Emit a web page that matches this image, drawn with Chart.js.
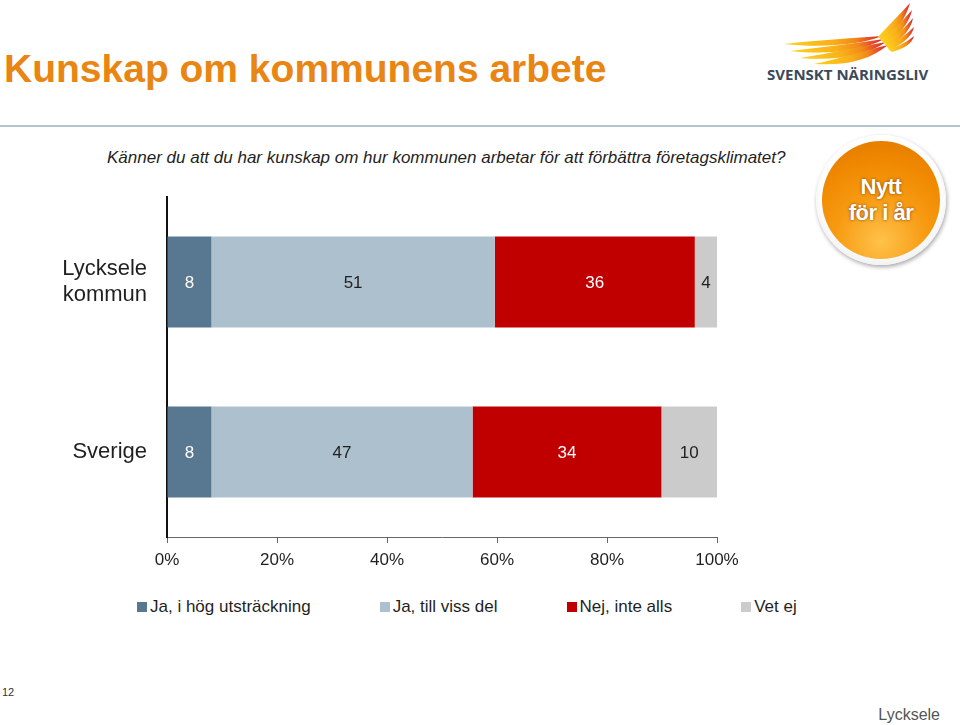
<!DOCTYPE html>
<html lang="sv">
<head>
<meta charset="utf-8">
<title>Kunskap om kommunens arbete</title>
<script src="https://cdn.jsdelivr.net/npm/chart.js@4.4.1/dist/chart.umd.min.js"></script>
<style>
    html, body {
        margin: 0;
        padding: 0;
        background: #ffffff;
    }

    body {
        position: relative;
        width: 960px;
        height: 725px;
        overflow: hidden;
        font-family: "Liberation Sans", Arial, sans-serif;
        color: #1f1f1f;
    }

    .title {
        position: absolute;
        left: 4px;
        top: 47px;
        margin: 0;
        font-size: 39px;
        font-weight: bold;
        color: #e98512;
        white-space: nowrap;
    }

    .rule {
        position: absolute;
        left: 0;
        top: 125px;
        width: 960px;
        height: 2px;
        background: #b3c4cc;
    }

    .question {
        position: absolute;
        left: 107px;
        top: 148px;
        font-size: 17px;
        font-style: italic;
        white-space: nowrap;
    }

    .logo {
        position: absolute;
        left: 760px;
        top: 0;
        width: 200px;
        height: 90px;
    }

    .logo-text {
        position: absolute;
        left: 767px;
        top: 64px;
        font-family: "Open Sans", sans-serif;
        font-weight: bold;
        font-size: 15px;
        color: #3b4a5b;
        white-space: nowrap;
    }

    .badge {
        position: absolute;
        left: 816px;
        top: 135px;
        width: 130px;
        height: 130px;
        border-radius: 50%;
        background: radial-gradient(circle at 50% 45%, #ffffff 60%, #d9d9d9 100%);
        box-shadow: 1px 2px 4px rgba(0, 0, 0, 0.35);
    }

    .badge-inner {
        position: absolute;
        left: 6px;
        top: 6px;
        width: 118px;
        height: 118px;
        border-radius: 50%;
        background: radial-gradient(circle at 50% 85%, #ffc24a 0%, #f79a12 40%, #ef8800 70%, #e07600 100%);
        display: flex;
        flex-direction: column;
        align-items: center;
        justify-content: center;
        color: #ffffff;
        font-weight: bold;
        font-size: 22px;
        line-height: 26px;
        letter-spacing: -0.5px;
        text-shadow: 0 0 3px rgba(110, 45, 0, 0.85);
    }

    #chartBox {
        position: absolute;
        left: 0;
        top: 182px;
        width: 760px;
        height: 400px;
    }

    .legend {
        position: absolute;
        left: 137px;
        top: 597px;
        display: flex;
        gap: 69px;
        font-size: 17px;
        line-height: 20px;
        white-space: nowrap;
    }

    .legend span.item {
        display: flex;
        align-items: center;
    }

    .legend i {
        display: inline-block;
        width: 10px;
        height: 10px;
        margin-right: 3px;
    }

    .page-no {
        position: absolute;
        left: 2px;
        top: 686px;
        font-size: 11px;
        color: #333;
    }

    .footer {
        position: absolute;
        right: 20px;
        top: 706px;
        font-size: 16px;
        color: #555;
    }
</style>
</head>
<body>
<h1 class="title">Kunskap om kommunens arbete</h1>

<svg class="logo" viewBox="0 0 200 90">
    <defs>
        <linearGradient id="wing" x1="0" y1="0" x2="1" y2="0">
            <stop offset="0" stop-color="#fcd41c"/>
            <stop offset="0.5" stop-color="#f9ae1a"/>
            <stop offset="0.72" stop-color="#f28a1a"/>
            <stop offset="0.85" stop-color="#e8522a"/>
            <stop offset="1" stop-color="#d8262a"/>
        </linearGradient>
    </defs>
    <g fill="url(#wing)">
        <path d="M24 44 C60 40 96 38 122 36 C100 45 62 48 24 44 Z"/>
        <path d="M30 51 C64 47 98 43 124 39 C102 51 68 55 30 51 Z"/>
        <path d="M40 58 C72 53 102 46 126 42 C106 56 76 61 40 58 Z"/>
        <path d="M54 64 C82 58 106 50 128 45 C110 60 86 66 54 64 Z"/>
        <path d="M118 37 C128 26 140 14 150 3 C146 18 136 32 124 42 Z"/>
        <path d="M121 40 C133 31 143 20 152 10 C149 24 138 36 126 45 Z"/>
        <path d="M124 43 C136 36 146 27 153 18 C151 30 141 40 128 47 Z"/>
        <path d="M126 46 C138 41 147 34 154 27 C152 37 142 44 130 50 Z"/>
        <path d="M128 49 C140 46 148 41 154 36 C152 44 143 49 132 52 Z"/>
    </g>
</svg>
<div class="logo-text">SVENSKT NÄRINGSLIV</div>

<div class="rule"></div>

<div class="question">Känner du att du har kunskap om hur kommunen arbetar för att förbättra företagsklimatet?</div>

<div class="badge"><div class="badge-inner"><span>Nytt</span><span>för i år</span></div></div>

<div id="chartBox"><canvas id="kunskapChart" width="760" height="400"></canvas></div>

<div class="legend" id="legend"></div>

<div class="page-no">12</div>
<div class="footer">Lycksele</div>

<script>
// Data (percent, rounded as shown in the labels)
const categories = [["Lycksele", "kommun"], "Sverige"];
const seriesNames = ["Ja, i hög utsträckning", "Ja, till viss del", "Nej, inte alls", "Vet ej"];
const hogUtstrackning = [8, 8];
const tillVissDel = [51, 47];
const inteAlls = [36, 34];
const vetEj = [4, 10];
const xTicks = [0, 20, 40, 60, 80, 100];

window.KunskapChart = (() => {
    const FONT = '"Liberation Sans", Arial, sans-serif';
    const series = [hogUtstrackning, tillVissDel, inteAlls, vetEj];
    const colors = ["#587790", "#adc0ce", "#c00000", "#cbcbcb"];
    const labelColors = ["#ffffff", "#1f1f1f", "#ffffff", "#1f1f1f"];

    // 100 % stacked: each row is scaled to its own total
    function shares(index) {
        return series[index].map((v, row) => {
            const total = series.reduce((sum, s) => sum + s[row], 0);
            return (v / total) * 100;
        });
    }

    const valueLabels = {
        id: "valueLabels",
        afterDatasetsDraw(chart) {
            const ctx = chart.ctx;
            ctx.save();
            ctx.font = "17px " + FONT;
            ctx.textAlign = "center";
            ctx.textBaseline = "middle";
            chart.data.datasets.forEach((ds, i) => {
                chart.getDatasetMeta(i).data.forEach((bar, j) => {
                    const p = bar.getProps(["x", "y", "base"], true);
                    ctx.fillStyle = labelColors[i];
                    ctx.fillText(String(series[i][j]), (p.x + p.base) / 2, p.y + 1);
                });
            });
            ctx.restore();
        },
    };

    function buildLegend() {
        const box = document.getElementById("legend");
        seriesNames.forEach((name, i) => {
            const item = document.createElement("span");
            item.className = "item";
            const swatch = document.createElement("i");
            swatch.style.background = colors[i];
            item.appendChild(swatch);
            item.appendChild(document.createTextNode(name));
            box.appendChild(item);
        });
    }

    function init() {
        const canvas = document.getElementById("kunskapChart");

        if (!canvas || typeof Chart === "undefined") {
            return;
        }

        new Chart(canvas.getContext("2d"), {
            type: "bar",

            data: {
                labels: categories,

                datasets: seriesNames.map((name, i) => ({
                    label: name,
                    data: shares(i),
                    backgroundColor: colors[i],
                    borderWidth: 0,
                    barPercentage: 0.535,
                    categoryPercentage: 1,
                })),
            },

            plugins: [valueLabels],

            options: {
                indexAxis: "y",

                responsive: false,

                animation: false,

                layout: {
                    padding: { top: 15, right: 43, bottom: 0, left: 0 },
                },

                scales: {
                    x: {
                        stacked: true,
                        min: 0,
                        max: 100,
                        afterBuildTicks: (scale) => {
                            scale.ticks = xTicks.map((v) => ({ value: v }));
                        },
                        afterFit: (scale) => {
                            scale.height = 45;
                            scale.paddingLeft = 0;
                            scale.paddingRight = 0;
                        },
                        ticks: {
                            callback: (v) => v + "%",
                            color: "#1f1f1f",
                            padding: 7,
                            maxRotation: 0,
                            font: { size: 17, family: FONT },
                        },
                        grid: {
                            drawOnChartArea: false,
                            tickLength: 6,
                            color: "#666666",
                        },
                        border: {
                            color: "#666666",
                            width: 1,
                        },
                    },

                    y: {
                        stacked: true,
                        afterFit: (scale) => {
                            scale.width = 167;
                            scale.paddingTop = 0;
                            scale.paddingBottom = 0;
                        },
                        ticks: {
                            color: "#1f1f1f",
                            padding: 20,
                            font: { size: 22, family: FONT },
                        },
                        grid: {
                            display: false,
                            drawTicks: false,
                        },
                        border: {
                            color: "#111111",
                            width: 2,
                        },
                    },
                },

                plugins: {
                    legend: {
                        display: false,
                    },
                    tooltip: {
                        enabled: false,
                    },
                },
            },
        });

        buildLegend();
    }

    return {
        init,
    };
})();

window.KunskapChart.init();
</script>
</body>
</html>
